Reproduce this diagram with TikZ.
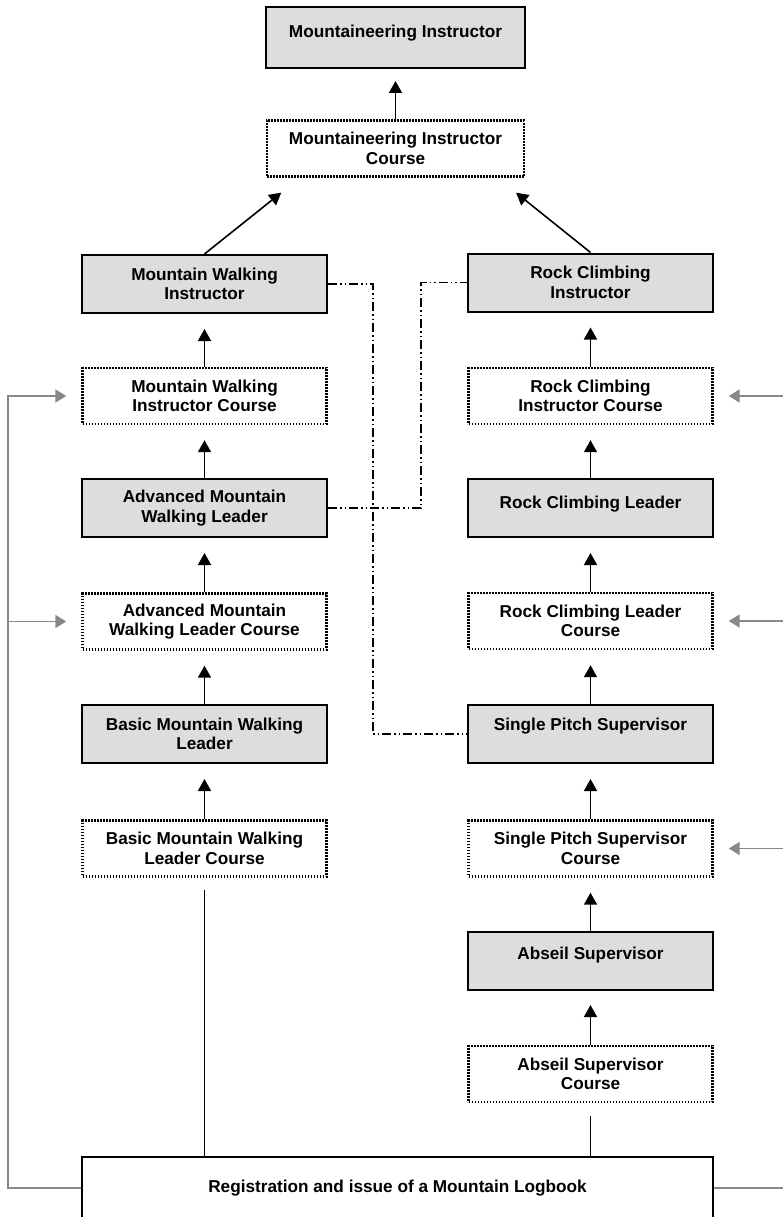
\documentclass[tikz,border=0pt]{standalone}
\usepackage{fontspec}
\setmainfont{Liberation Sans}
\usetikzlibrary{arrows.meta}

\definecolor{awardgray}{HTML}{DDDDDD}
\definecolor{feedgray}{HTML}{888888}

\begin{document}
\begin{tikzpicture}[
    x = 1pt, y = -1pt,
    box/.style = {draw, align = center, inner sep = 2pt,
      font = \bfseries\fontsize{17.2}{19.5}\selectfont},
    award/.style = {fill = awardgray, line width = 2pt,
      minimum width = 245pt, minimum height = 58pt},
    course/.style = {line width = 2.4pt,
      dash pattern = on 1.8pt off 1.2pt,
      minimum width = 244pt, minimum height = 56pt},
    oneline/.style = {text height = 12.5pt, text depth = #1},
    advance/.style = {line width = 1.6pt,
      -{Triangle[length = 12pt, width = 13pt]}},
    feed/.style = {feedgray, line width = 1.8pt,
      -{Triangle[length = 11pt, width = 13pt]}, shorten > = 15pt},
    logline/.style = {line width = 1.5pt},
    link/.style = {line width = 1.6pt,
      dash pattern = on 9pt off 3pt on 1.5pt off 3pt on 1.5pt off 3pt},
    ]

    \useasboundingbox (0, 0) rectangle (783, 1217);

    \node at (395.5, 37.5)
    [box, award, minimum width = 259pt, minimum height = 61pt,
      oneline = 12pt, name = MI] {Mountaineering Instructor};
    \node at (395.5, 148.5)
    [box, course, minimum width = 257pt, name = MIC]
    {Mountaineering Instructor\\Course};

    % walking side
    \node at (204.5, 284)
    [box, award, name = MWI] {Mountain Walking\\Instructor};
    \node at (204.5, 396)
    [box, course, name = MWIC] {Mountain Walking\\Instructor Course};
    \node at (204.5, 508)
    [box, award, name = AMWL] {Advanced Mountain\\Walking Leader};
    \node at (204.5, 621.5)
    [box, course, name = AMWLC] {Advanced Mountain\\Walking Leader Course};
    \node at (204.5, 734)
    [box, award, name = BMWL] {Basic Mountain Walking\\Leader};
    \node at (204.5, 848.5)
    [box, course, name = BMWLC] {Basic Mountain Walking\\Leader Course};

    % climbing side
    \node at (590.5, 282.5)
    [box, award, name = RCI] {Rock Climbing\\Instructor};
    \node at (590.5, 396)
    [box, course, name = RCIC] {Rock Climbing\\Instructor Course};
    \node at (590.5, 508)
    [box, award, oneline = 12pt, name = RCL] {Rock Climbing Leader};
    \node at (590.5, 621)
    [box, course, name = RCLC] {Rock Climbing Leader\\Course};
    \node at (590.5, 734)
    [box, award, oneline = 20pt, name = SPS] {Single Pitch Supervisor};
    \node at (590.5, 848.5)
    [box, course, name = SPSC] {Single Pitch Supervisor\\Course};
    \node at (590.5, 961)
    [box, award, oneline = 15pt, name = AS] {Abseil Supervisor};
    \node at (590.5, 1074)
    [box, course, name = ASC] {Abseil Supervisor\\Course};

    \node at (397.5, 1188)
    [box, line width = 1.6pt, minimum width = 631pt, minimum height = 62pt,
      name = Reg] {Registration and issue of a Mountain Logbook};

    \coordinate (busL) at (8, 1188);
    \coordinate (busR) at (786, 1188);

    \draw [advance, shorten > = 12pt] (MIC.north) to (MI.south);
    \draw [advance, shorten > = 24pt] (MWI.north) to (MIC.197);
    \draw [advance, shorten > = 24pt] (RCI.north) to (MIC.344);

    \draw [advance, shorten > = 15pt] (MWIC.north) to (MWI.south);
    \draw [advance, shorten > = 15pt] (AMWL.north) to (MWIC.south);
    \draw [advance, shorten > = 15pt] (AMWLC.north) to (AMWL.south);
    \draw [advance, shorten > = 15pt] (BMWL.north) to (AMWLC.south);
    \draw [advance, shorten > = 15pt] (BMWLC.north) to (BMWL.south);

    \draw [advance, shorten > = 15pt] (RCIC.north) to (RCI.south);
    \draw [advance, shorten > = 15pt] (RCL.north) to (RCIC.south);
    \draw [advance, shorten > = 15pt] (RCLC.north) to (RCL.south);
    \draw [advance, shorten > = 15pt] (SPS.north) to (RCLC.south);
    \draw [advance, shorten > = 15pt] (SPSC.north) to (SPS.south);
    \draw [advance, shorten > = 15pt] (AS.north) to (SPSC.south);
    \draw [advance, shorten > = 14pt] (ASC.north) to (AS.south);

    \draw [logline, shorten < = 12pt] (BMWLC.south) to (BMWLC.south |- Reg.north);
    \draw [logline, shorten < = 13pt] (ASC.south) to (ASC.south |- Reg.north);

    % cross links
    \draw [link] (MWI.east) -- ++(45, 0) |- (SPS.west);
    \draw [link] (AMWL.east) -- ++(93, 0) |- (RCI.west);

    % logbook feeds
    \draw [feed] (Reg.west) -- (busL) -- (busL |- MWIC.west) -- (MWIC.west);
    \draw [feed] (busL |- AMWLC.west) -- (AMWLC.west);
    \draw [feed] (Reg.east) -- (busR) -- (busR |- RCIC.east) -- (RCIC.east);
    \draw [feed] (busR |- RCLC.east) -- (RCLC.east);
    \draw [feed] (busR |- SPSC.east) -- (SPSC.east);
  \end{tikzpicture}
\end{document}
